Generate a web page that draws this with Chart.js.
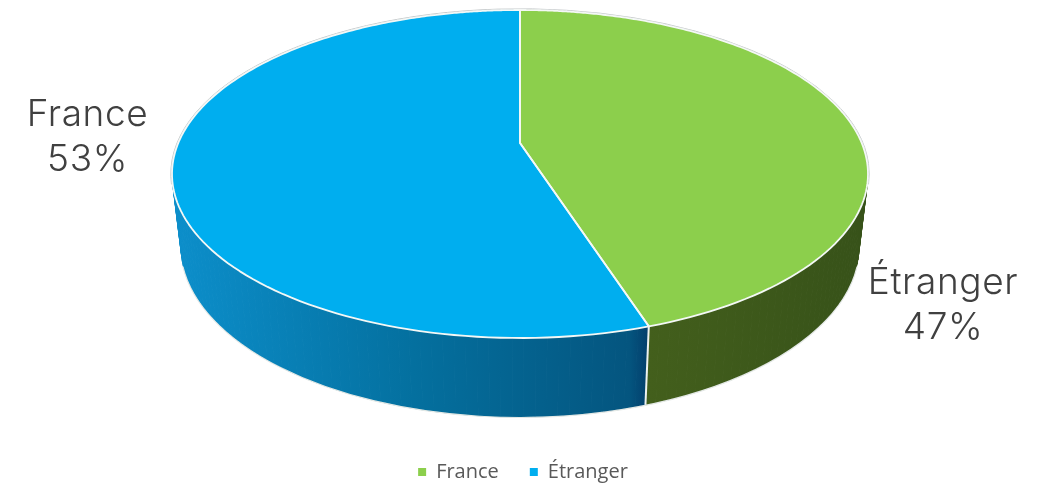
<!DOCTYPE html>
<html>
<head>
<meta charset="utf-8">
<script src="https://cdn.jsdelivr.net/npm/chart.js@4/dist/chart.umd.js"></script>
<style>html,body{margin:0;padding:0;background:#fff}canvas{display:block}</style>
</head>
<body>
<canvas id="c" width="1046" height="483"></canvas>
<script>
const categories = ['France', 'Étranger'];
const values = [47, 53];
const calloutNames = ['Étranger', 'France'];
const calloutPercents = ['47%', '53%'];
const colors = ['#8CCF4C', '#00AEEF'];

// Drawing geometry of the tilted pie (style, not data)
const TOP = {cx: 520, cy: 174, rx: 348, ry: 164};
const LOW = {cx: 520, cy: 246, rx: 339, ry: 171};
const PIVOT = {x: 520, y: 143};
const FORESHORTEN = 0.70;
const CALLOUTS = [{x: 943, y: 294}, {x: 87.5, y: 126}];
const LINE = 45;

function rimPoint(angle) {
  const t = angle + Math.PI / 2;
  const w = t - FORESHORTEN * Math.sin(t);
  const dx = Math.sin(w) * TOP.rx, dy = -Math.cos(w) * TOP.ry;
  const ox = (PIVOT.x - TOP.cx) / TOP.rx, oy = (PIVOT.y - TOP.cy) / TOP.ry;
  const ux = dx / TOP.rx, uy = dy / TOP.ry;
  const a = ux * ux + uy * uy, b = 2 * (ox * ux + oy * uy), c = ox * ox + oy * oy - 1;
  const s = (-b + Math.sqrt(b * b - 4 * a * c)) / (2 * a);
  return {x: PIVOT.x + dx * s, y: PIVOT.y + dy * s};
}
function lowPoint(p) {
  return {
    x: LOW.cx + (p.x - TOP.cx) / TOP.rx * LOW.rx,
    y: LOW.cy + (p.y - TOP.cy) / TOP.ry * LOW.ry
  };
}
function samples(a0, a1) {
  const n = Math.max(8, Math.ceil((a1 - a0) * 60)), out = [];
  for (let i = 0; i <= n; i++) out.push(rimPoint(a0 + (a1 - a0) * i / n));
  return out;
}

const pie3d = {
  id: 'pie3d',
  beforeDatasetDraw(chart, args) {
    const ctx = chart.ctx, arcs = args.meta.data;
    const wallBlue = ctx.createLinearGradient(178, 0, 648, 0);
    wallBlue.addColorStop(0, '#0C8ECA');
    wallBlue.addColorStop(0.5, '#04709F');
    wallBlue.addColorStop(0.96, '#04557F');
    wallBlue.addColorStop(1, '#033F6C');
    const wallGreen = ctx.createLinearGradient(648, 0, 860, 0);
    wallGreen.addColorStop(0, '#435F1C');
    wallGreen.addColorStop(1, '#375219');
    const walls = [wallGreen, wallBlue];
    ctx.save();
    ctx.lineJoin = 'round';
    // side walls
    arcs.forEach((el, i) => {
      const pts = samples(el.startAngle, el.endAngle);
      ctx.fillStyle = walls[i];
      ctx.strokeStyle = walls[i];
      ctx.lineWidth = 1;
      for (let k = 0; k < pts.length - 1; k++) {
        const p = pts[k], q = pts[k + 1], pl = lowPoint(p), ql = lowPoint(q);
        ctx.beginPath();
        ctx.moveTo(p.x, p.y); ctx.lineTo(q.x, q.y); ctx.lineTo(ql.x, ql.y); ctx.lineTo(pl.x, pl.y);
        ctx.closePath(); ctx.fill(); ctx.stroke();
      }
    });
    // pale lower rim
    ctx.strokeStyle = '#e4e9e6';
    ctx.lineWidth = 1.2;
    ctx.beginPath();
    ctx.ellipse(LOW.cx, LOW.cy, LOW.rx + 0.5, LOW.ry + 0.5, 0, 0.12, Math.PI - 0.12);
    ctx.stroke();
    // seam between the two walls
    const seam = rimPoint(arcs[0].endAngle), seamLow = lowPoint(seam);
    ctx.strokeStyle = '#eef2ee';
    ctx.lineWidth = 2;
    ctx.beginPath(); ctx.moveTo(seam.x, seam.y); ctx.lineTo(seamLow.x, seamLow.y); ctx.stroke();
    // grey halo round the top face
    ctx.strokeStyle = '#c4c8ca';
    ctx.lineWidth = 1;
    ctx.beginPath();
    ctx.ellipse(TOP.cx, TOP.cy, TOP.rx + 1.2, TOP.ry + 1.2, 0, Math.PI * 0.98, Math.PI * 2.02);
    ctx.stroke();
    // top faces
    arcs.forEach((el, i) => {
      const pts = samples(el.startAngle, el.endAngle);
      ctx.beginPath();
      ctx.moveTo(PIVOT.x, PIVOT.y);
      pts.forEach(p => ctx.lineTo(p.x, p.y));
      ctx.closePath();
      ctx.fillStyle = colors[i];
      ctx.fill();
    });
    arcs.forEach((el) => {
      const pts = samples(el.startAngle, el.endAngle);
      ctx.beginPath();
      ctx.moveTo(PIVOT.x, PIVOT.y);
      pts.forEach(p => ctx.lineTo(p.x, p.y));
      ctx.closePath();
      ctx.strokeStyle = '#f4f8f6';
      ctx.lineWidth = 1.8;
      ctx.stroke();
    });
    // callouts
    ctx.fillStyle = '#404040';
    ctx.font = '300 37px Inter';
    ctx.letterSpacing = '0.6px';
    ctx.textAlign = 'center';
    ctx.textBaseline = 'alphabetic';
    CALLOUTS.forEach((c, i) => {
      ctx.fillText(calloutNames[i], c.x, c.y);
      ctx.fillText(calloutPercents[i], c.x, c.y + LINE);
    });
    ctx.restore();
    return false;
  }
};

new Chart(document.getElementById('c'), {
  type: 'pie',
  data: {
    labels: categories,
    datasets: [{data: values, backgroundColor: colors, borderWidth: 0}]
  },
  options: {
    responsive: false,
    animation: false,
    layout: {padding: {bottom: -9}},
    plugins: {
      tooltip: {enabled: false},
      legend: {
        position: 'bottom',
        labels: {
          boxWidth: 8, boxHeight: 8, padding: 31,
          color: '#595959',
          font: {family: '"Open Sans"', size: 20}
        }
      }
    }
  },
  plugins: [pie3d]
});
</script>
</body>
</html>
